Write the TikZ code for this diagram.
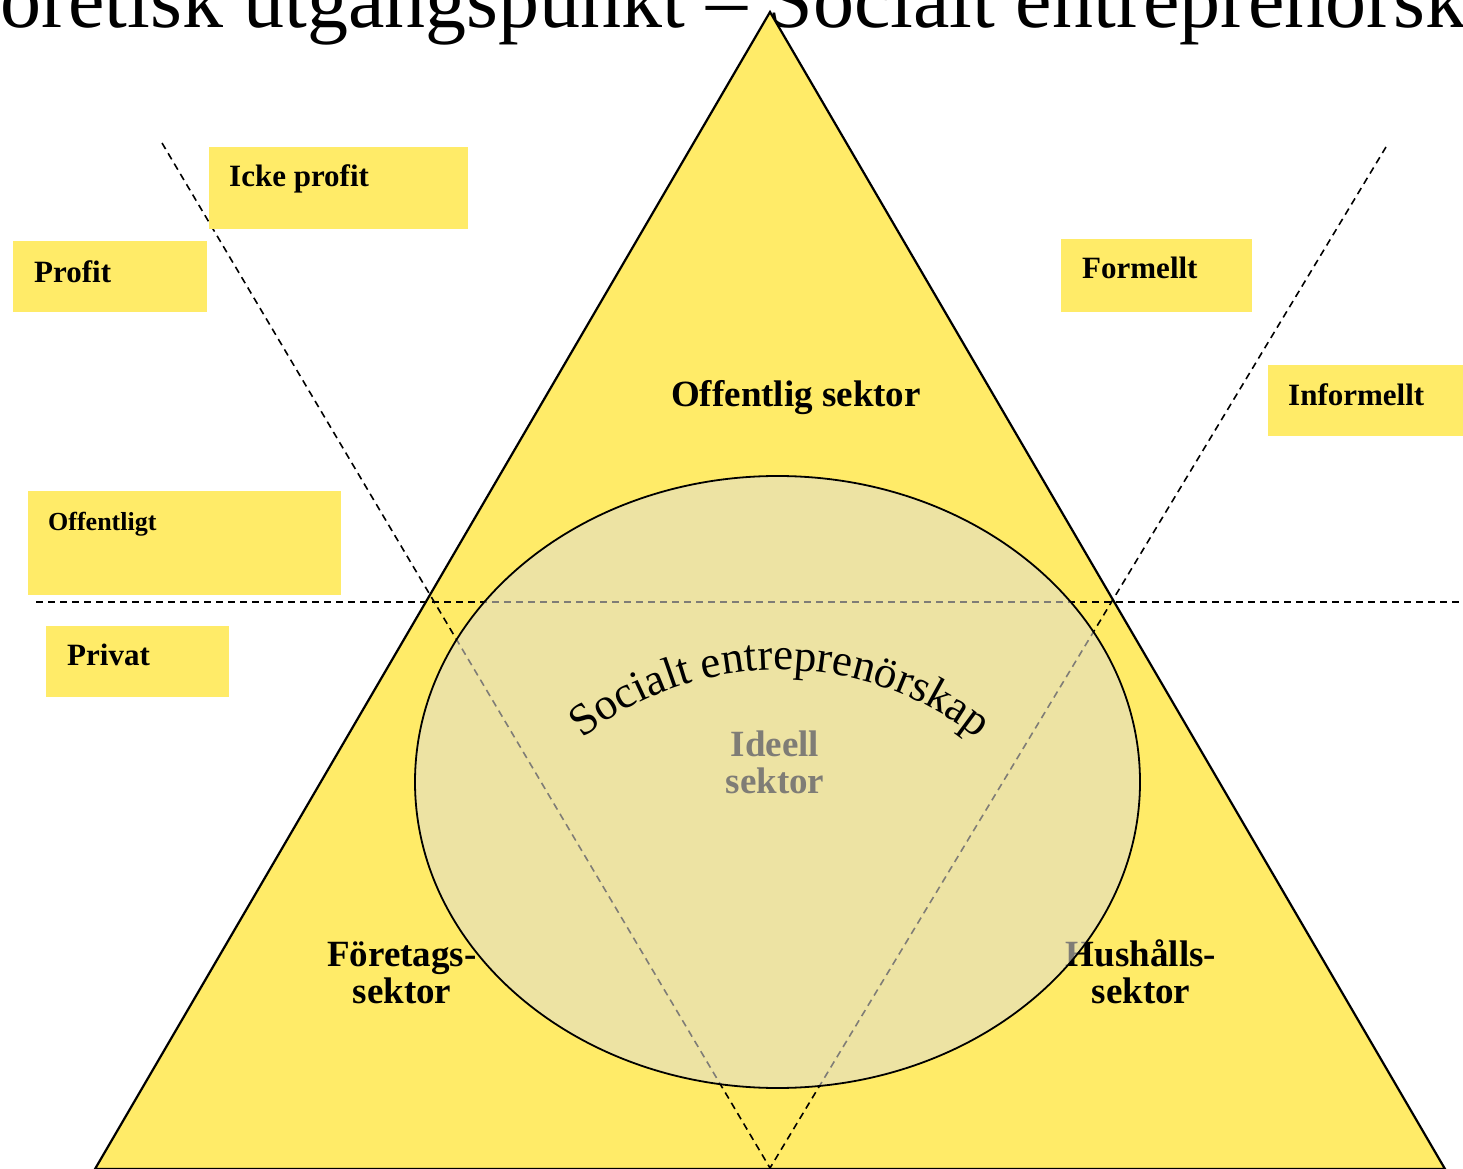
\documentclass[tikz,border=0pt]{standalone}
\usepackage{fontspec}
\setmainfont{Liberation Serif}
\usetikzlibrary{decorations.text}
\definecolor{triyel}{RGB}{255,235,104}
\definecolor{ellcol}{RGB}{225,221,209}
\begin{document}
\begin{tikzpicture}[x=1pt,y=1pt,
  boxbg/.style={fill=triyel,draw=none,inner sep=0pt,anchor=south west},
  boxlbl/.style={anchor=base west,inner sep=0pt,font=\bfseries\fontsize{31}{31}\selectfont},
  seclbl/.style={align=center,inner sep=0pt,font=\bfseries\fontsize{37}{37}\selectfont},
  dashline/.style={line width=1.6pt,dash pattern=on 7pt off 5pt},
  triline/.style={line width=2.2pt,fill=triyel,line join=miter},
  ellline/.style={line width=1.8pt,fill=ellcol,fill opacity=0.57}]
\useasboundingbox (0,0) rectangle (1463,1168);
\clip (0,0) rectangle (1463,1168);
\fill[white] (0,0) rectangle (1463,1168);
% title
\node[anchor=base west,inner sep=0pt,font=\fontsize{82}{82}\selectfont] (title) at (-81,1140) {Teoretisk utgångspunkt – Socialt entreprenörskap};
% triangle
\coordinate (apex) at (770,1156);
\coordinate (bl) at (95,-1);
\coordinate (br) at (1445,-1);
\draw[triline] (apex) -- (bl) -- (br) -- cycle;
% sector labels (under the ellipse)
\node[seclbl] (offsek) at (796,770) {Offentlig sektor};
\node[seclbl] (foresek) at (402,195) {Företags-\\sektor};
\node[seclbl] (hushsek) at (1141,196) {Hushålls-\\sektor};
\node[seclbl] (ideell) at (775,406) {Ideell\\sektor};
% dashed dividing lines
\coordinate (ltop) at (162,1025);
\coordinate (rtop) at (1386,1021);
\coordinate (vbot) at (770,0);
\coordinate (hl) at (36,566);
\coordinate (hr) at (1463,566);
\draw[dashline] (ltop) -- (vbot);
\draw[dashline] (rtop) -- (vbot);
\draw[dashline] (hl) -- (hr);
% boxes
\node[boxbg,minimum width=259pt,minimum height=82pt] (bicke) at (209,939) {};
\node[boxbg,minimum width=194pt,minimum height=71pt] (bprofit) at (13,856) {};
\node[boxbg,minimum width=191pt,minimum height=73pt] (bform) at (1061,856) {};
\node[boxbg,minimum width=195pt,minimum height=71pt] (binform) at (1268,732) {};
\node[boxbg,minimum width=313pt,minimum height=104pt] (boff) at (28,573) {};
\node[boxbg,minimum width=183pt,minimum height=71pt] (bpriv) at (46,471) {};
\node[boxlbl] (ticke) at (229,981) {Icke profit};
\node[boxlbl] (tprofit) at (34,885) {Profit};
\node[boxlbl] (tform) at (1082,889) {Formellt};
\node[boxlbl] (tinform) at (1288,762) {Informellt};
\node[boxlbl,font=\bfseries\fontsize{26}{26}\selectfont] (toff) at (48,637) {Offentligt};
\node[boxlbl] (tpriv) at (67,502) {Privat};
% ellipse
\draw[ellline] (777.5,386) ellipse [x radius=362.5, y radius=306];
% curved text
\path[decorate,decoration={text along path,text align=center,
  text={|\fontsize{45}{45}\selectfont|Socialt entreprenörskap}}]
  (780,180) ++(135:318) arc[start angle=135,end angle=45,radius=318];
\end{tikzpicture}
\end{document}
